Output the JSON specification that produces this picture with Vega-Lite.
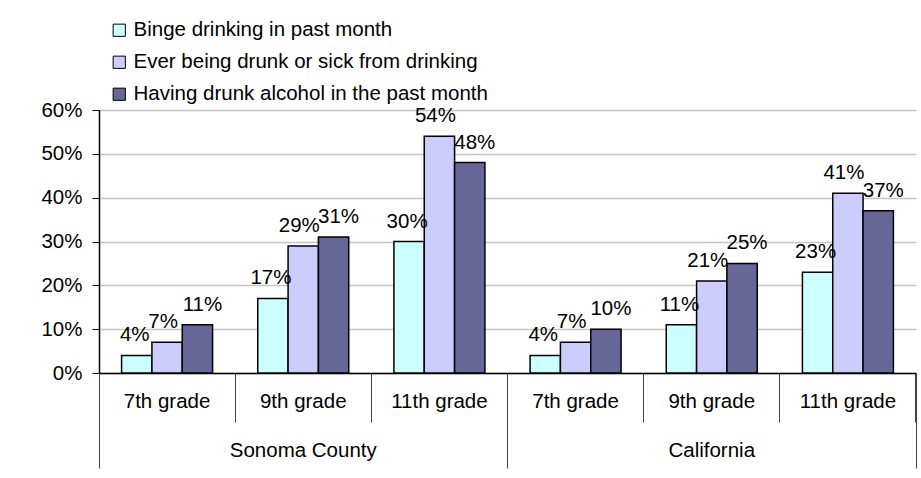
{
  "$schema": "https://vega.github.io/schema/vega-lite/v6.json",
  "width": 817,
  "height": 263,
  "autosize": {"type": "none"},
  "padding": {"left": 99, "top": 110, "right": 5, "bottom": 105},
  "background": "white",
  "config": {
    "font": "Liberation Sans",
    "view": {"stroke": null},
    "axis": {"labelFont": "Liberation Sans", "labelFontSize": 20.5, "labelColor": "black", "title": null},
    "text": {"fontSize": 20.5, "font": "Liberation Sans", "color": "black", "baseline": "bottom", "dy": -10}
  },
  "data": {
    "values": [
      {"region": "Sonoma County", "group": "Sonoma County|7th grade", "measure": "Binge drinking in past month", "value": 0.04},
      {"region": "Sonoma County", "group": "Sonoma County|7th grade", "measure": "Ever being drunk or sick from drinking", "value": 0.07},
      {"region": "Sonoma County", "group": "Sonoma County|7th grade", "measure": "Having drunk alcohol in the past month", "value": 0.11},
      {"region": "Sonoma County", "group": "Sonoma County|9th grade", "measure": "Binge drinking in past month", "value": 0.17},
      {"region": "Sonoma County", "group": "Sonoma County|9th grade", "measure": "Ever being drunk or sick from drinking", "value": 0.29},
      {"region": "Sonoma County", "group": "Sonoma County|9th grade", "measure": "Having drunk alcohol in the past month", "value": 0.31},
      {"region": "Sonoma County", "group": "Sonoma County|11th grade", "measure": "Binge drinking in past month", "value": 0.30},
      {"region": "Sonoma County", "group": "Sonoma County|11th grade", "measure": "Ever being drunk or sick from drinking", "value": 0.54},
      {"region": "Sonoma County", "group": "Sonoma County|11th grade", "measure": "Having drunk alcohol in the past month", "value": 0.48},
      {"region": "California", "group": "California|7th grade", "measure": "Binge drinking in past month", "value": 0.04},
      {"region": "California", "group": "California|7th grade", "measure": "Ever being drunk or sick from drinking", "value": 0.07},
      {"region": "California", "group": "California|7th grade", "measure": "Having drunk alcohol in the past month", "value": 0.10},
      {"region": "California", "group": "California|9th grade", "measure": "Binge drinking in past month", "value": 0.11},
      {"region": "California", "group": "California|9th grade", "measure": "Ever being drunk or sick from drinking", "value": 0.21},
      {"region": "California", "group": "California|9th grade", "measure": "Having drunk alcohol in the past month", "value": 0.25},
      {"region": "California", "group": "California|11th grade", "measure": "Binge drinking in past month", "value": 0.23},
      {"region": "California", "group": "California|11th grade", "measure": "Ever being drunk or sick from drinking", "value": 0.41},
      {"region": "California", "group": "California|11th grade", "measure": "Having drunk alcohol in the past month", "value": 0.37}
    ]
  },
  "layer": [
    {
      "encoding": {
        "x": {"field": "group", "type": "nominal", "sort": null},
        "xOffset": {"field": "measure", "type": "nominal", "sort": null},
        "y": {"field": "value", "type": "quantitative"}
      },
      "layer": [
        {
          "mark": {"type": "bar", "stroke": "black", "strokeWidth": 1.5},
          "encoding": {
            "x": {
              "field": "group", "type": "nominal", "sort": null,
              "scale": {"paddingInner": 0, "paddingOuter": 0},
              "axis": {
                "labelExpr": "split(datum.label, '|')[1]",
                "labelAngle": 0, "bandPosition": 1, "tickExtra": true,
                "tickSize": 49, "tickColor": "#404040", "tickWidth": 1,
                "labelPadding": -31, "domainColor": "black", "domainWidth": 1.5,
                "labelLimit": 200
              }
            },
            "xOffset": {"field": "measure", "type": "nominal", "sort": null, "scale": {"paddingOuter": 0.745, "paddingInner": 0}},
            "y": {
              "field": "value", "type": "quantitative",
              "scale": {"domain": [0, 0.6], "nice": false},
              "axis": {
                "values": [0, 0.1, 0.2, 0.3, 0.4, 0.5, 0.6], "format": ".0%",
                "tickSize": 7, "labelPadding": 10, "gridColor": "#c4c4c4", "gridWidth": 1.5,
                "domainColor": "black", "tickColor": "black", "domainWidth": 1.5
              }
            },
            "color": {
              "field": "measure", "type": "nominal", "sort": null,
              "scale": {"range": ["#CCFFFF", "#CCCCFF", "#666699"]},
              "legend": {
                "orient": "none", "legendX": 10, "legendY": -90, "title": null,
                "symbolType": "square", "symbolSize": 150, "symbolStrokeColor": "black",
                "symbolStrokeWidth": 1, "labelFontSize": 20.5, "labelFont": "Liberation Sans",
                "labelColor": "black", "labelOffset": 4, "rowPadding": 11, "labelLimit": 600, "padding": 0
              }
            }
          }
        },
        {
          "transform": [{"filter": "datum.measure === 'Binge drinking in past month'"}],
          "mark": {"type": "text", "dx": -2},
          "encoding": {"text": {"field": "value", "type": "quantitative", "format": ".0%"}}
        },
        {
          "transform": [{"filter": "datum.measure === 'Ever being drunk or sick from drinking'"}],
          "mark": {"type": "text", "dx": -4},
          "encoding": {"text": {"field": "value", "type": "quantitative", "format": ".0%"}}
        },
        {
          "transform": [{"filter": "datum.measure === 'Having drunk alcohol in the past month'"}],
          "mark": {"type": "text", "dx": 5},
          "encoding": {"text": {"field": "value", "type": "quantitative", "format": ".0%"}}
        }
      ]
    },
    {
      "mark": {"type": "bar", "opacity": 0},
      "encoding": {
        "x": {
          "field": "region", "type": "nominal", "sort": null,
          "scale": {"type": "band", "paddingInner": 0, "paddingOuter": 0},
          "axis": {
            "orient": "bottom", "bandPosition": 1, "tickExtra": true, "tickSize": 95,
            "domain": false, "labelPadding": -28, "labelAngle": 0, "tickColor": "#404040", "tickWidth": 1
          }
        }
      }
    }
  ],
  "resolve": {"scale": {"x": "independent"}, "axis": {"x": "independent"}}
}
